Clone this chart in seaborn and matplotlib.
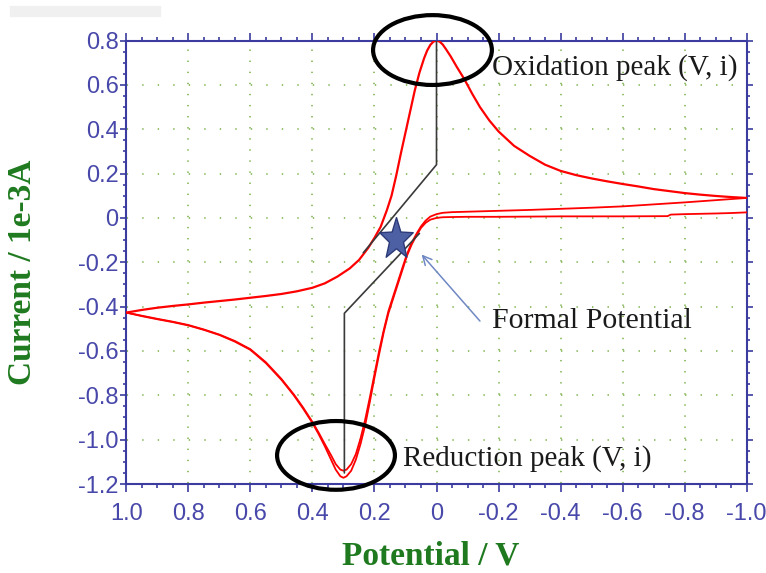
import math
import matplotlib
matplotlib.use("Agg")
import matplotlib.pyplot as plt
import seaborn as sns
from matplotlib.patches import Ellipse, Rectangle
from matplotlib.ticker import MultipleLocator

# ---------------- data ----------------
# cycle 1, sweep from -1.0 V towards +1.0 V (reduction branch)
c1_v = [-1.0, -0.95, -0.9, -0.8, -0.755, -0.745, -0.6, -0.4, -0.2, -0.1, -0.05, -0.02,
        0.0, 0.02, 0.035, 0.05, 0.065, 0.08, 0.095, 0.11, 0.125, 0.14, 0.155, 0.17,
        0.185, 0.2, 0.215, 0.23, 0.245, 0.26, 0.275, 0.29, 0.3, 0.31, 0.325, 0.34,
        0.36, 0.38, 0.4, 0.43, 0.46, 0.5, 0.55, 0.6, 0.65, 0.7, 0.75, 0.8, 0.85,
        0.9, 0.95, 1.0]
c1_i = [0.025, 0.022, 0.020, 0.017, 0.015, 0.008, 0.007, 0.007, 0.005, 0.005, 0.004,
        0.003, 0.0, -0.008, -0.022, -0.045, -0.08, -0.12, -0.17, -0.235, -0.30,
        -0.365, -0.43, -0.515, -0.615, -0.72, -0.83, -0.935, -1.02, -1.09, -1.14,
        -1.165, -1.172, -1.165, -1.135, -1.09, -1.03, -0.975, -0.925, -0.86, -0.80,
        -0.73, -0.655, -0.595, -0.558, -0.528, -0.505, -0.485, -0.47, -0.457,
        -0.443, -0.427]

# cycle 2, sweep from -1.0 V towards +1.0 V (reduction branch)
c2_v = [-1.0, -0.95, -0.9, -0.8, -0.7, -0.6, -0.5, -0.4, -0.3, -0.2, -0.1, -0.05,
        -0.02, 0.0, 0.02, 0.035, 0.05, 0.065, 0.08, 0.095, 0.11, 0.125, 0.14, 0.155,
        0.17, 0.185, 0.2, 0.215, 0.23, 0.245, 0.26, 0.275, 0.29, 0.3, 0.31, 0.325,
        0.34, 0.36, 0.38, 0.4, 0.43, 0.46, 0.5, 0.55, 0.6, 0.65, 0.7, 0.75, 0.8,
        0.85, 0.9, 0.95, 1.0]
c2_i = [0.09, 0.085, 0.08, 0.07, 0.061, 0.052, 0.046, 0.041, 0.036, 0.032, 0.028,
        0.026, 0.023, 0.017, 0.006, -0.012, -0.038, -0.073, -0.112, -0.162, -0.225,
        -0.29, -0.355, -0.42, -0.505, -0.60, -0.705, -0.81, -0.91, -0.995, -1.065,
        -1.11, -1.135, -1.14, -1.135, -1.11, -1.07, -1.02, -0.968, -0.92, -0.855,
        -0.796, -0.726, -0.651, -0.592, -0.555, -0.526, -0.503, -0.483, -0.468,
        -0.455, -0.441, -0.427]

# sweep from +1.0 V back to -1.0 V (oxidation branch)
a_v = [1.0, 0.95, 0.9, 0.85, 0.8, 0.75, 0.7, 0.65, 0.6, 0.55, 0.5, 0.45, 0.4, 0.36,
       0.32, 0.28, 0.25, 0.22, 0.2, 0.18, 0.16, 0.145, 0.13, 0.115, 0.1, 0.085, 0.07,
       0.055, 0.04, 0.03, 0.02, 0.01, 0.0, -0.01, -0.02, -0.03, -0.045, -0.065,
       -0.09, -0.115, -0.14, -0.17, -0.2, -0.25, -0.3, -0.35, -0.4, -0.45, -0.5,
       -0.55, -0.6, -0.65, -0.7, -0.75, -0.8, -0.85, -0.9, -0.95, -1.0]
a_i = [-0.427, -0.415, -0.405, -0.397, -0.39, -0.382, -0.375, -0.368, -0.36, -0.352,
       -0.343, -0.331, -0.315, -0.295, -0.265, -0.228, -0.19, -0.135, -0.09, -0.04,
       0.035, 0.10, 0.19, 0.29, 0.385, 0.48, 0.575, 0.655, 0.72, 0.755, 0.78, 0.795,
       0.80, 0.795, 0.782, 0.762, 0.73, 0.682, 0.625, 0.56, 0.50, 0.44, 0.39, 0.325,
       0.28, 0.24, 0.212, 0.193, 0.178, 0.165, 0.153, 0.142, 0.13, 0.121, 0.112,
       0.105, 0.099, 0.094, 0.09]

# peak-height construction lines
ox_base_v = [0.0, 0.0, 0.236]
ox_base_i = [0.8, 0.24, -0.157]
red_base_v = [0.297, 0.297, 0.055]
red_base_i = [-1.15, -0.43, -0.07]

# formal potential marker
star_v = [0.129]
star_i = [-0.097]

x_ticks = [1.0, 0.8, 0.6, 0.4, 0.2, 0.0, -0.2, -0.4, -0.6, -0.8, -1.0]
x_tick_labels = ["1.0", "0.8", "0.6", "0.4", "0.2", "0", "-0.2", "-0.4", "-0.6", "-0.8", "-1.0"]
y_ticks = [0.8, 0.6, 0.4, 0.2, 0.0, -0.2, -0.4, -0.6, -0.8, -1.0, -1.2]
y_tick_labels = ["0.8", "0.6", "0.4", "0.2", "0", "-0.2", "-0.4", "-0.6", "-0.8", "-1.0", "-1.2"]

# ---------------- styling ----------------
sns.set_theme(style="white")
plt.rcParams["font.family"] = ["Liberation Sans", "DejaVu Sans"]
plt.rcParams["lines.scale_dashes"] = False

AXIS_BLUE = "#3c3ca0"
LABEL_BLUE = "#4848aa"
GREEN = "#1f7a1f"
GRID_GREEN = "#8bbb62"
SERIF = ["Liberation Serif", "DejaVu Serif"]

# slightly tall five-pointed star marker shape
star_shape = []
for k in range(10):
    ang = math.pi / 2 + k * math.pi / 5
    r = 1.0 if k % 2 == 0 else 0.42
    star_shape.append((r * math.cos(ang), 1.25 * r * math.sin(ang)))
star_shape.append(star_shape[0])

fig = plt.figure(figsize=(7.66, 5.73), dpi=100)
fig.patch.set_facecolor("white")
ax = fig.add_axes([0.1649, 0.1553, 0.8099, 0.7740])
ax.set_facecolor("white")

# faint bar at the top-left of the reference
fig.patches.append(Rectangle((10 / 766, 1 - 16 / 573), 150 / 766, 10 / 573,
                             transform=fig.transFigure, color="#f0f0f0", zorder=0))

ax.set_xlim(1.0, -1.0)
ax.set_ylim(-1.2, 0.8)

# dotted grid (dots at the minor tick positions)
on = 1.0
yper = 0.05 * 443.5 / 2.0 * 72 / 100   # pt between dots on vertical lines
xper = 0.05 * 620.4 / 2.0 * 72 / 100   # pt between dots on horizontal lines
for xv in x_ticks[1:-1]:
    ax.axvline(xv, color=GRID_GREEN, lw=1.3, zorder=0,
               linestyle=(yper - on / 2, (on, yper - on)))
for yv in y_ticks[1:-1]:
    ax.axhline(yv, color=GRID_GREEN, lw=1.3, zorder=0,
               linestyle=(xper - on / 2, (on, xper - on)))

# voltammogram
for vv, ii, lw in [(c1_v, c1_i, 1.3), (c2_v, c2_i, 1.3), (a_v, a_i, 1.6)]:
    sns.lineplot(x=vv, y=ii, sort=False, estimator=None, color="#ff0000",
                 lw=lw, ax=ax, zorder=3)

# construction lines
for vv, ii in [(ox_base_v, ox_base_i), (red_base_v, red_base_i)]:
    sns.lineplot(x=vv, y=ii, sort=False, estimator=None, color="#3a3a3a",
                 lw=1.2, ax=ax, zorder=4)

# formal potential star
sns.scatterplot(x=star_v, y=star_i, marker=star_shape, s=1000, color="#4d60a4",
                edgecolor="#2c3a78", linewidth=1.0, ax=ax, zorder=6)

# ellipses around the peaks
ax.add_patch(Ellipse((0.013, 0.757), 0.383, 0.315, fill=False, ec="black",
                     lw=3.0, clip_on=False, zorder=7))
ax.add_patch(Ellipse((0.324, -1.071), 0.38, 0.31, fill=False, ec="black",
                     lw=3.0, clip_on=False, zorder=7))

# annotations
ax.text(-0.178, 0.676, "Oxidation peak (V, i)", family=SERIF, fontsize=21,
        color="#1a1a1a", ha="left", va="center", zorder=8)
ax.text(-0.178, -0.465, "Formal Potential", family=SERIF, fontsize=21.5,
        color="#1a1a1a", ha="left", va="center", zorder=8)
ax.text(0.107, -1.087, "Reduction peak (V, i)", family=SERIF, fontsize=21,
        color="#1a1a1a", ha="left", va="center", zorder=8, clip_on=False)
ax.annotate("", xy=(0.048, -0.165), xytext=(-0.14, -0.465),
            arrowprops=dict(arrowstyle="->", color="#6f88c4", lw=1.1,
                            shrinkA=0, shrinkB=0, mutation_scale=16), zorder=8)

# axes, ticks
for sp in ax.spines.values():
    sp.set_visible(True)
    sp.set_color(AXIS_BLUE)
    sp.set_linewidth(1.5)

ax.set_xticks(x_ticks)
ax.set_xticklabels(x_tick_labels)
ax.set_yticks(y_ticks)
ax.set_yticklabels(y_tick_labels)
ax.xaxis.set_minor_locator(MultipleLocator(0.05))
ax.yaxis.set_minor_locator(MultipleLocator(0.05))
ax.tick_params(axis="both", which="both", direction="out", top=True, right=True,
               bottom=True, left=True, labeltop=False, labelright=False,
               color=AXIS_BLUE, labelcolor=LABEL_BLUE, labelsize=17, width=1.2)
ax.tick_params(axis="x", which="major", length=6, pad=8)
ax.tick_params(axis="x", which="minor", length=3.2)
ax.tick_params(axis="y", which="major", length=4.5, pad=1)
ax.tick_params(axis="y", which="minor", length=2.5)
ax.grid(False)

ax.set_xlabel("Potential / V", family=SERIF, fontsize=24, fontweight="bold",
              color=GREEN, va="center")
ax.set_ylabel("Current / 1e-3A", family=SERIF, fontsize=24, fontweight="bold",
              color=GREEN, va="center")
ax.xaxis.set_label_coords(0.49, -0.162)
ax.yaxis.set_label_coords(-0.168, 0.478)

fig.savefig("out.png", dpi=100, facecolor="white")
